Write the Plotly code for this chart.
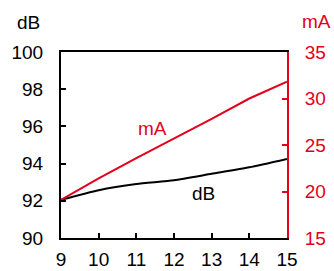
import plotly.graph_objects as go

x_vals = [9, 10, 11, 12, 13, 14, 15]
db_vals = [92.05, 92.57, 92.9, 93.1, 93.45, 93.8, 94.25]
ma_vals = [19.1, 21.4, 23.6, 25.7, 27.8, 30.0, 31.8]
x_ticks = [9, 10, 11, 12, 13, 14, 15]
db_ticks = [90, 92, 94, 96, 98, 100]
ma_ticks = [15, 20, 25, 30, 35]

RED = "#e3001b"
FONT = "Liberation Sans, Arial, sans-serif"

fig = go.Figure()
fig.add_trace(go.Scatter(x=x_vals, y=db_vals, mode="lines", line=dict(color="black", width=2, shape="spline", smoothing=0.6), yaxis="y", showlegend=False, hoverinfo="skip"))
fig.add_trace(go.Scatter(x=x_vals, y=ma_vals, mode="lines", line=dict(color=RED, width=2), yaxis="y2", showlegend=False, hoverinfo="skip"))

fig.update_layout(
    width=334, height=271,
    margin=dict(l=61, r=47, t=52, b=33, autoexpand=False),
    paper_bgcolor="white", plot_bgcolor="white",
    font=dict(family=FONT, size=19, color="black"),
    xaxis=dict(range=[9, 15], tickvals=x_ticks, ticks="inside", ticklen=5, tickwidth=2, tickcolor="black",
               showline=True, linecolor="black", linewidth=2, mirror=True, showgrid=False, zeroline=False,
               ticklabelstandoff=3),
    yaxis=dict(range=[90, 100], tickvals=db_ticks, ticks="inside", ticklen=5, tickwidth=2, tickcolor="black",
               showline=True, linecolor="black", linewidth=2, showgrid=False, zeroline=False, ticklabelstandoff=12),
    yaxis2=dict(range=[15, 35], tickvals=ma_ticks, overlaying="y", side="right", ticks="inside", ticklen=5, tickwidth=2,
                tickcolor=RED, showline=True, linecolor=RED, linewidth=2, showgrid=False, zeroline=False,
                tickfont=dict(color=RED), ticklabelstandoff=12),
    annotations=[
        dict(text="dB", xref="paper", yref="paper", x=-0.084, y=1.159, xanchor="right", yanchor="middle", showarrow=False, font=dict(size=19)),
        dict(text="mA", xref="paper", yref="paper", x=1.0575, y=1.164, xanchor="left", yanchor="middle", showarrow=False, font=dict(size=19, color=RED)),
        dict(text="mA", x=11.43, y=95.9, showarrow=False, font=dict(size=19, color=RED)),
        dict(text="dB", x=12.78, y=92.4, showarrow=False, font=dict(size=19, color="black")),
    ],
)
fig.write_html("out.html", config={"displayModeBar": False},
               post_script="document.body.style.margin='0px';document.body.style.padding='0px';")
